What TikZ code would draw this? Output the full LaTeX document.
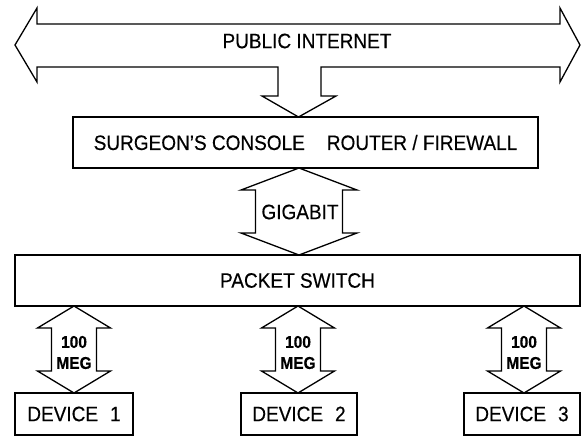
\documentclass[tikz,border=0pt]{standalone}
\usepackage{fontspec}
\setmainfont{Liberation Sans}[FakeBold=0.4]
\newcommand{\tx}[1]{\scalebox{1}[1.1]{#1}}
\newcommand{\vdarrow}[6]{% cx, ytop, ybot, headhalf, shafthalf, headlen
  \draw[arrowline] (#1,#2) -- (#1+#4,#2+#6) -- (#1+#5,#2+#6) -- (#1+#5,#3-#6)
    -- (#1+#4,#3-#6) -- (#1,#3) -- (#1-#4,#3-#6) -- (#1-#5,#3-#6)
    -- (#1-#5,#2+#6) -- (#1-#4,#2+#6) -- cycle;}
\begin{document}
\begin{tikzpicture}[x=1pt,y=-1pt,
  box/.style={draw, line width=2.2pt, inner sep=0pt, font=\fontsize{19}{22}\selectfont},
  arrowline/.style={draw, line width=1.3pt, line join=miter},
  lbl/.style={inner sep=0pt, font=\fontsize{19}{22}\selectfont},
  small/.style={inner sep=0pt, font=\fontsize{15.5}{17}\selectfont\bfseries}]
\useasboundingbox (0,0) rectangle (581,437);
% top double arrow
\draw[arrowline] (15,45) -- (37,8) -- (37,24) -- (560,24) -- (560,8) -- (580,45)
  -- (560,82) -- (560,67) -- (321,67) -- (321,96) -- (336,96) -- (298.5,117)
  -- (262,96) -- (278,96) -- (278,67) -- (37,67) -- (37,82) -- cycle;
\node[lbl] (inet) at (307,41) {\tx{PUBLIC INTERNET}};
% router box
\node[box, minimum width=465pt, minimum height=51pt] (router) at (305.5,142.5)
  {\tx{SURGEON\symbol{39}S CONSOLE\hspace{22pt}ROUTER / FIREWALL}};
% gigabit arrow
\vdarrow{299}{168}{255}{58}{43.5}{22}
\node[lbl] (giga) at (300,212) {\tx{GIGABIT}};
% packet switch
\node[box, minimum width=565pt, minimum height=51pt] (switch) at (297.5,280.5) {\tx{PACKET SWITCH}};
% 100 MEG arrows
\vdarrow{74}{306}{393}{36.5}{22.5}{22}
\vdarrow{298}{306}{393}{36.5}{22.5}{22}
\vdarrow{524}{306}{393}{36.5}{22.5}{22}
\foreach \cx/\n in {74/a,298/b,524/c}{
  \node[small] (hund\n) at (\cx,342) {\tx{100}};
  \node[small] (meg\n) at (\cx,363) {\tx{MEG}};
}
% devices
\node[box, minimum width=118pt, minimum height=42pt] (dev1) at (74,414) {\tx{DEVICE\hspace{12pt}1}};
\node[box, minimum width=116pt, minimum height=42pt] (dev2) at (299,414) {\tx{DEVICE\hspace{12pt}2}};
\node[box, minimum width=116pt, minimum height=42pt] (dev3) at (522,414) {\tx{DEVICE\hspace{12pt}3}};
\end{tikzpicture}
\end{document}
